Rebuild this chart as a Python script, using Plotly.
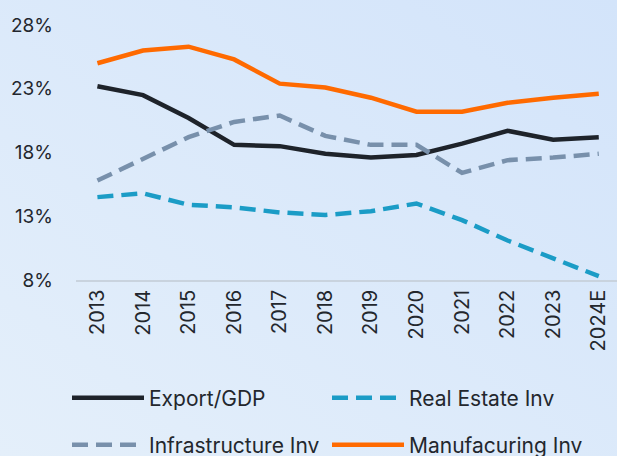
import base64

import plotly.graph_objects as go

# data (% values)
years = ["2013", "2014", "2015", "2016", "2017", "2018", "2019", "2020", "2021", "2022", "2023", "2024E"]
export_gdp = [23.2, 22.5, 20.7, 18.6, 18.5, 17.9, 17.6, 17.8, 18.7, 19.7, 19.0, 19.2]
real_estate_inv = [14.5, 14.8, 13.9, 13.7, 13.3, 13.1, 13.4, 14.0, 12.7, 11.1, 9.7, 8.3]
infrastructure_inv = [15.8, 17.5, 19.2, 20.4, 20.9, 19.3, 18.6, 18.6, 16.4, 17.4, 17.6, 17.9]
manufacturing_inv = [25.0, 26.0, 26.3, 25.3, 23.4, 23.1, 22.3, 21.2, 21.2, 21.9, 22.3, 22.6]
y_ticks = [8, 13, 18, 23, 28]

FONT = "Inter"
TEXT = "#23272d"
W, H = 617, 456
M_L, M_R, M_T, M_B = 76, 0, 25, 176
DASH = "16px,8px"

fig = go.Figure()

fig.add_trace(go.Scatter(
    x=years, y=export_gdp, name="Export/GDP", mode="lines",
    line=dict(color="#1e232a", width=4.5), legend="legend"
))
fig.add_trace(go.Scatter(
    x=years, y=real_estate_inv, name="Real Estate Inv", mode="lines",
    line=dict(color="#1b9cc6", width=4.5, dash=DASH), legend="legend2"
))
fig.add_trace(go.Scatter(
    x=years, y=infrastructure_inv, name="Infrastructure Inv", mode="lines",
    line=dict(color="#7890ab", width=4.5, dash=DASH), legend="legend3"
))
fig.add_trace(go.Scatter(
    x=years, y=manufacturing_inv, name="Manufacuring Inv", mode="lines",
    line=dict(color="#ff6a00", width=4.5), legend="legend4"
))


def legend_at(px, py):
    # one legend box per entry, placed in container pixels
    return dict(
        orientation="h",
        xref="container", yref="container",
        x=px / W, y=(H - py) / H,
        xanchor="left", yanchor="middle",
        itemwidth=72,
        font=dict(family=FONT, size=21, color=TEXT),
        bgcolor="rgba(0,0,0,0)",
        itemclick=False,
    )


# soft diagonal background gradient (top-right darker, bottom-left lighter)
svg = (
    '<svg xmlns="http://www.w3.org/2000/svg" width="617" height="456" '
    'preserveAspectRatio="none" viewBox="0 0 617 456">'
    '<defs><linearGradient id="g" x1="1" y1="0" x2="0" y2="1">'
    '<stop offset="0" stop-color="#d3e4fa"/><stop offset="1" stop-color="#e4effa"/>'
    '</linearGradient></defs><rect width="617" height="456" fill="url(#g)"/></svg>'
)
bg_uri = "data:image/svg+xml;base64," + base64.b64encode(svg.encode()).decode()
plot_w = W - M_L - M_R
plot_h = H - M_T - M_B

fig.update_layout(
    width=W, height=H,
    margin=dict(l=M_L, r=M_R, t=M_T, b=M_B),
    paper_bgcolor="#dbe9f8",
    plot_bgcolor="rgba(0,0,0,0)",
    font=dict(family=FONT, size=19, color=TEXT),
    showlegend=True,
    images=[dict(
        source=bg_uri, xref="paper", yref="paper",
        x=-M_L / plot_w, y=1 + M_T / plot_h,
        sizex=W / plot_w, sizey=H / plot_h,
        xanchor="left", yanchor="top",
        sizing="stretch", layer="below",
    )],
    xaxis=dict(
        type="category", range=[-0.47, 11.4],
        tickangle=-90, showgrid=False, ticks="",
        showline=True, linecolor="#c9d3de", linewidth=1.5,
        tickfont=dict(family=FONT, size=20, color=TEXT),
    ),
    yaxis=dict(
        range=[8, 28], tickvals=y_ticks, ticktext=[f"{v}%" for v in y_ticks],
        showgrid=False, zeroline=False, ticks="",
        ticklabelstandoff=22,
        tickfont=dict(family=FONT, size=19, color=TEXT),
    ),
    legend=legend_at(67, 398),
    legend2=legend_at(327, 398),
    legend3=legend_at(67, 445),
    legend4=legend_at(327, 445),
)

fig.write_html(
    "out.html",
    config={"displayModeBar": False},
    post_script="document.body.style.margin='0';",
)
